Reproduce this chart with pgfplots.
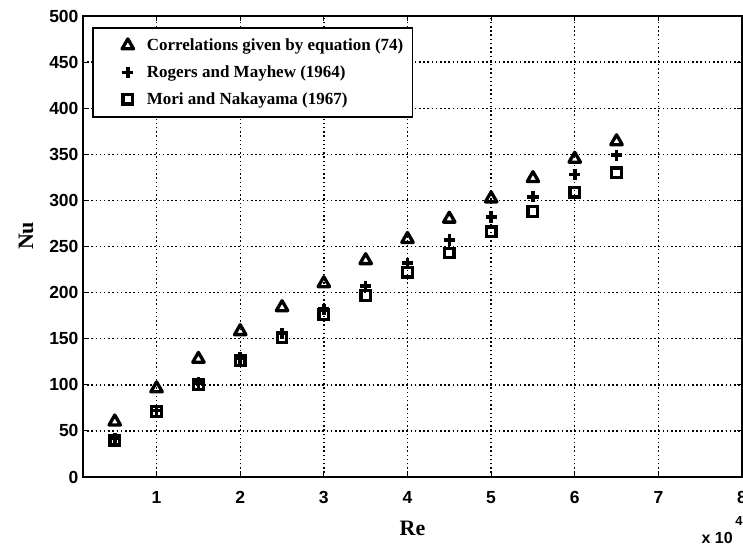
\documentclass[border=0pt]{standalone}
\usepackage{fontspec}
\setmainfont{Liberation Serif}
\setsansfont{Liberation Sans}
\usepackage{pgfplots}
\pgfplotsset{compat=1.18}

\begin{document}
\begin{tikzpicture}[x=1pt,y=1pt]
\begin{axis}[
  at={(0,0)}, anchor=south west,
  scale only axis,
  width=659pt, height=461pt,
  xmin=0.12, xmax=8, ymin=0, ymax=500,
  xtick={1,2,...,8}, ytick={0,50,...,500},
  tick align=inside,
  major tick length=5pt,
  tick style={black, line width=1pt},
  axis line style={line width=1.8pt},
  grid=major,
  major grid style={black, line width=1.4pt, dash pattern=on 1.5pt off 2.7pt},
  /pgf/number format/assume math mode=true,
  ticklabel style={font=\sffamily\bfseries\fontsize{17.5}{20}\selectfont},
  yticklabel style={xshift=-1pt},
  xticklabel style={yshift=-11pt},
  xlabel={Re}, ylabel={Nu},
  label style={font=\bfseries\fontsize{22}{26}\selectfont},
  xlabel style={at={(axis description cs:0.5,-0.1106)}, anchor=center},
  ylabel style={at={(axis description cs:-0.0865,0.523)}, anchor=center},
  legend style={
    at={(rel axis cs:0.0137,0.976)}, anchor=north west,
    draw=black, line width=1.6pt,
    font=\bfseries\fontsize{17}{20}\selectfont,
    inner xsep=7pt, inner ysep=9pt,
    row sep=9.5pt,
    legend cell align=left,
  },
  legend image code/.code={%
    \draw[#1] plot coordinates {(0pt,0pt)};
    \path[draw=none, fill=none] (-28pt,-8pt) rectangle (17pt,8pt);},
]
% equation (74)
\addplot[only marks, mark=triangle, mark size=6.6pt, black,
  mark options={line width=3.3pt, line join=round}]
  coordinates {(0.5,60) (1,96) (1.5,128) (2,158) (2.5,184) (3,210) (3.5,235)
               (4,258) (4.5,280) (5,302) (5.5,324) (6,345) (6.5,364)};
\addlegendentry{Correlations\ given by equation (74)}
% Rogers and Mayhew (1964)
\addplot[only marks, mark=+, mark size=5.6pt, black,
  mark options={line width=3.6pt}]
  coordinates {(0.5,42) (1,72) (1.5,102) (2,129) (2.5,156) (3,182) (3.5,207)
               (4,232) (4.5,257) (5,282) (5.5,304) (6,328) (6.5,349)};
\addlegendentry{Rogers and Mayhew (1964)}
% Mori and Nakayama (1967)
\addplot[only marks, mark=square, mark size=4.8pt, black,
  mark options={line width=3.3pt}]
  coordinates {(0.5,40) (1,71) (1.5,100) (2,126) (2.5,151) (3,176) (3.5,197)
               (4,222) (4.5,243) (5,266) (5.5,288) (6,309) (6.5,330)};
\addlegendentry{Mori and Nakayama (1967)}
\end{axis}
% scale factor of the abscissa
\node[anchor=east, inner sep=0pt, font=\sffamily\bfseries\fontsize{16}{18}\selectfont]
  at (650pt,-61pt) {x 10};
\node[inner sep=0pt, font=\sffamily\bfseries\fontsize{13}{15}\selectfont]
  at (656pt,-44pt) {4};
\pgfresetboundingbox
\path (-83pt,-70pt) rectangle (660pt,477pt);
\end{tikzpicture}
\end{document}
